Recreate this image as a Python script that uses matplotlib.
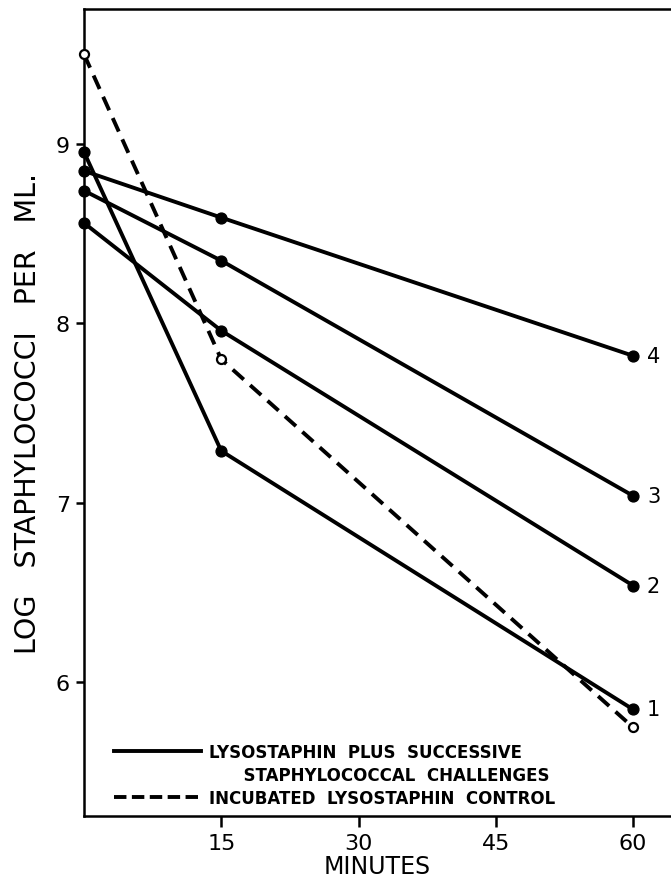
"""Lysostaphin kill curves: log staphylococci per ml vs minutes, four challenge runs + control."""
import matplotlib

matplotlib.use("Agg")
import matplotlib.pyplot as plt

plt.rcParams.update({"font.family": "DejaVu Sans", "font.size": 15})

MINUTES = [0, 15, 60]
# successive staphylococcal challenges (labelled 1-4 at the right end)
CHALLENGE_LABELS = ["1", "2", "3", "4"]
CHALLENGE_LOG = [
    [8.955, 7.29, 5.85],
    [8.56, 7.96, 6.54],
    [8.74, 8.35, 7.04],
    [8.85, 8.59, 7.82],
]
CONTROL_LOG = [9.5, 7.80, 5.75]

X_TICKS = [15, 30, 45, 60]
Y_TICKS = [6, 7, 8, 9]

INK = "black"
LW = 2.8
DASH = (0, (3.8, 2.2))

fig = plt.figure(figsize=(6.71, 8.79), dpi=100)
ax = fig.add_axes([84 / 671, 1 - 817 / 879, 1 - 84 / 671, (817 - 10) / 879])

for label, ys in zip(CHALLENGE_LABELS, CHALLENGE_LOG):
    ax.plot(MINUTES, ys, "-", color=INK, lw=LW, marker="o", ms=7.8,
            mfc=INK, mec=INK, clip_on=False, zorder=3)
    ax.annotate(label, xy=(MINUTES[-1], ys[-1]), xytext=(10, 0),
                textcoords="offset points", va="center", ha="left", fontsize=15)

ax.plot(MINUTES, CONTROL_LOG, color=INK, lw=LW, ls=DASH,
        marker="o", ms=6.5, mfc="white", mec=INK, mew=1.6, clip_on=False, zorder=4)

# legend proxies; the second caption line gets an invisible handle so the
# solid sample sits level with the first line, as in the original
ax.plot([], [], "-", color=INK, lw=LW, label="LYSOSTAPHIN  PLUS  SUCCESSIVE")
ax.plot([], [], color="none", label="      STAPHYLOCOCCAL  CHALLENGES")
ax.plot([], [], color=INK, lw=LW, ls=(0, (3.2, 1.4)), label="INCUBATED  LYSOSTAPHIN  CONTROL")
ax.legend(loc="lower left", bbox_to_anchor=(0.051, 0.011), frameon=False,
          borderaxespad=0, borderpad=0, handlelength=5.2, handletextpad=0.5,
          labelspacing=0.3, prop={"size": 12, "weight": "bold"})

ax.set_xlim(0, 64.15)
ax.set_ylim(5.256, 9.752)
ax.set_xticks(X_TICKS)
ax.set_yticks(Y_TICKS)
ax.tick_params(direction="out", width=1.8, length=6, labelsize=16, pad=4)
ax.tick_params(axis="x", length=8)
for side in ("left", "bottom", "top"):
    ax.spines[side].set_linewidth(1.8)
ax.spines["right"].set_visible(False)

ax.set_xlabel("MINUTES", fontsize=17, labelpad=1)
ax.set_ylabel("LOG   STAPHYLOCOCCI   PER   ML.", fontsize=20.5, labelpad=10)

fig.savefig("out.png", dpi=100)
